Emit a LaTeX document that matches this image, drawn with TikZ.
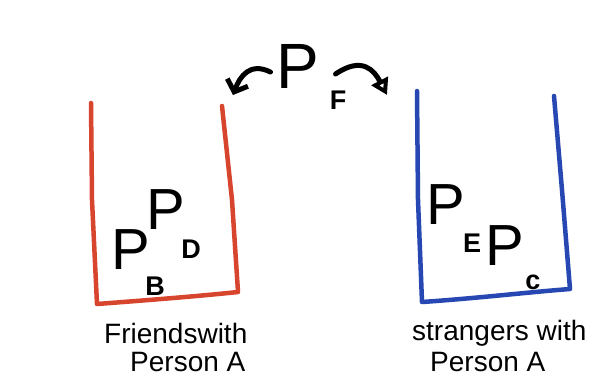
\documentclass[tikz,border=0pt]{standalone}
\usepackage{fontspec}
\setmainfont{Liberation Sans}
\usetikzlibrary{arrows.meta}
\definecolor{boxred}{HTML}{D8452F}
\definecolor{boxblue}{HTML}{2747B2}
\tikzset{
  redbox/.style={draw=boxred, line width=4.5pt, line cap=round, line join=round},
  bluebox/.style={draw=boxblue, line width=4.5pt, line cap=round, line join=round},
  bigP/.style={inner sep=0pt, font=\fontsize{64}{64}\selectfont},
  midP/.style={inner sep=0pt, font=\fontsize{58}{58}\selectfont},
  subl/.style={inner sep=0pt, font=\fontsize{27}{27}\selectfont\bfseries},
  lbl/.style={inner sep=0pt, font=\fontsize{28}{28}\selectfont},
  curarrow/.style={line width=5pt, line cap=round, line join=round, black}
}
\begin{document}
\begin{tikzpicture}[x=1pt,y=-1pt]
\useasboundingbox (0,0) rectangle (602,376);
\fill[white] (0,0) rectangle (602,376);
% red container
\draw[redbox] (91,103) -- (92,200) -- (97,304) .. controls (150,300) and (200,296) .. (238,292) -- (232,200) -- (222,106);
% blue container
\draw[bluebox] (417,91) -- (418,200) -- (422,302) .. controls (480,298) and (530,292) .. (570,289) -- (562,190) -- (554,96);
% P_F
\node[bigP] (pf) at (298,66) {P};
\node[subl] (pfs) at (338,100) {F};
\coordinate (la) at (233,95);
\coordinate (ra) at (387,95);
\draw[curarrow, -{Straight Barb[length=10pt,width=22pt,line width=5pt]}] ([xshift=-6pt,yshift=-6pt]pf.west) .. controls (250,62) and (240,76) .. (la);
\draw[curarrow, -{Triangle[open,length=16pt,width=18pt,line width=4pt]}] ([xshift=16pt,yshift=-8pt]pf.east) .. controls (362,56) and (374,70) .. (ra);
% friends
\node[midP] (pb) at (131,250) {P};
\node[subl] (pbs) at (155,286) {B};
\node[midP] (pd) at (166,210) {P};
\node[subl] (pds) at (191,249) {D};
% strangers
\node[midP] (pe) at (446,205) {P};
\node[subl] (pes) at (472,243) {E};
\node[midP] (pc) at (505,246) {P};
\node[subl] (pcs) at (533,282) {c};
% labels
\node[lbl, anchor=west] (fr1) at (104,333) {Friendswith};
\node[lbl, anchor=west] (fr2) at (130,362) {Person A};
\node[lbl, anchor=west] (st1) at (412,333) {strangers with};
\node[lbl, anchor=west] (st2) at (430,362) {Person A};
\end{tikzpicture}
\end{document}
